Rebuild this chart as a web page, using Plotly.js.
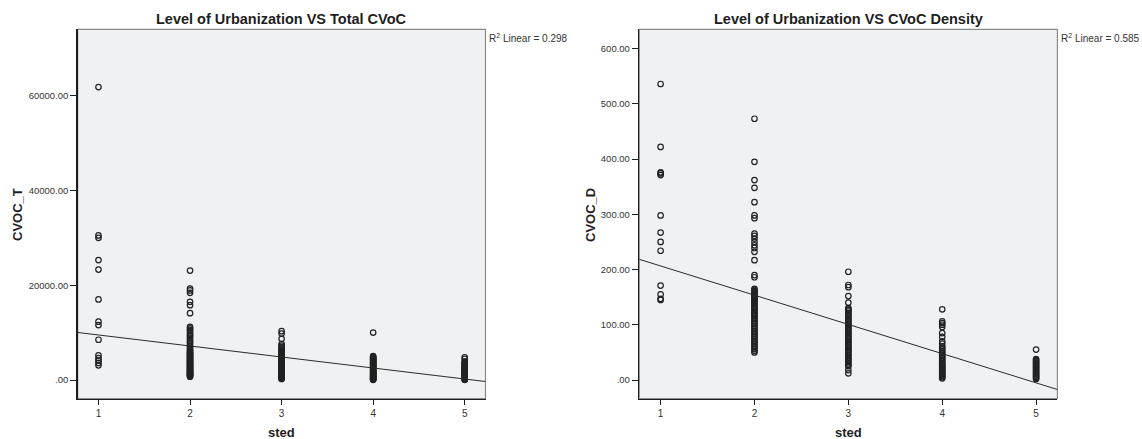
<!DOCTYPE html>
<html>
<head>
<meta charset="utf-8">
<script src="https://cdn.plot.ly/plotly-3.0.1.min.js"></script>
<style>html,body{margin:0;padding:0;background:#fff;}#chart{width:1142px;height:439px;}</style>
</head>
<body>
<div id="chart"></div>
<script>
// ---- data ----
const stedLevels = [1, 2, 3, 4, 5];
const xTickLabels = ['1', '2', '3', '4', '5'];

// Total CVoC by urbanization level (sted)
const cvocT_1 = [61800, 30500, 30000, 25300, 23300, 17000, 12300, 11600, 8500, 5200, 4600, 4100, 3600, 3100];
const cvocT_2 = [23100, 19300, 18900, 18400, 16500, 15800, 14100, 11200, 10900, 10600, 10300,
  9850, 9550, 9300, 8950, 8600, 8200, 7900, 7450, 7100, 6800, 6500, 6200, 5950, 5800, 5620, 5430, 5300,
  5120, 4950, 4780, 4640, 4480, 4300, 4170, 3990, 3820, 3660, 3480, 3350, 3190, 3040, 2880, 2760,
  2590, 2440, 2310, 2150, 1990, 1860, 1700, 1590, 1440, 1330, 1190, 1080, 960, 840, 700];
const cvocT_3 = [10300, 9800, 8700, 7600, 7250, 6950, 6700, 6420, 6230, 6010, 5850, 5690, 5520, 5380,
  5240, 5110, 4960, 4830, 4700, 4560, 4420, 4290, 4140, 4010, 3880, 3740, 3610, 3480, 3340, 3230,
  3090, 2960, 2820, 2690, 2560, 2420, 2290, 2160, 2010, 1890, 1760, 1620, 1490, 1360, 1240, 1110,
  990, 860, 730, 610, 470, 330, 220];
const cvocT_4 = [10000, 5050, 4880, 4720, 4560, 4410, 4260, 4090, 3950, 3790, 3640, 3500, 3360, 3220,
  3090, 2950, 2810, 2680, 2540, 2410, 2280, 2150, 2030, 1900, 1780, 1650, 1530, 1410, 1290, 1170,
  1060, 940, 830, 720, 610, 500, 400, 300, 200, 110, 30];
const cvocT_5 = [4800, 4480, 3950, 3720, 3510, 3300, 3110, 2920, 2750, 2590, 2430, 2280, 2140, 1990,
  1850, 1710, 1580, 1440, 1310, 1190, 1060, 940, 820, 710, 600, 500, 400, 300, 200, 120, 50];

// CVoC density by urbanization level (sted)
const cvocD_1 = [536, 422, 376, 374, 371, 298, 267, 250, 234, 171, 155, 147, 145];
const cvocD_2 = [473, 395, 362, 348, 322, 298, 293, 265, 261, 256, 250, 244, 239, 232, 217, 190, 186,
  165, 163, 161, 159, 157, 155, 153, 151, 149, 147, 145, 143, 141, 138, 135, 132, 130, 128, 125, 122,
  120, 118, 116, 113, 110, 107, 104, 101, 98, 95, 92, 89, 86, 83, 80, 77, 74, 71, 68, 65, 62, 59,
  56, 53, 50];
const cvocD_3 = [196, 172, 168, 152, 140, 130, 128, 126, 124, 121, 118, 116, 113, 110, 108, 105, 102,
  100, 97, 94, 92, 89, 86, 84, 81, 78, 76, 73, 70, 68, 65, 62, 60, 57, 54, 52, 49, 46, 44, 41, 38,
  36, 33, 30, 27, 25, 18, 12];
const cvocD_4 = [128, 106, 103, 100, 96, 85, 78, 70, 66, 61, 58, 55, 52, 49, 46, 44, 41, 39, 36, 34,
  31, 29, 27, 25, 23, 21, 19, 17, 15, 13, 11, 9, 7, 5, 3];
const cvocD_5 = [55, 38, 36, 34, 32, 30, 28, 26, 24, 22, 20, 18, 16, 14, 12, 10, 8, 6, 4, 2];

// linear fit lines (end points read at the plot edges)
const fitX = [0.773, 5.227];
const fitT = [10030, -320];
const fitD = [218.5, -17.2];

// y tick values / labels
const yTickT = [0, 20000, 40000, 60000];
const yTickTLabels = ['.00', '20000.00', '40000.00', '60000.00'];
const yTickD = [0, 100, 200, 300, 400, 500, 600];
const yTickDLabels = ['.00', '100.00', '200.00', '300.00', '400.00', '500.00', '600.00'];

const r2T = 'R<sup>2</sup> Linear = 0.298';
const r2D = 'R<sup>2</sup> Linear = 0.585';

// ---- build traces ----
const groupsT = [cvocT_1, cvocT_2, cvocT_3, cvocT_4, cvocT_5];
const groupsD = [cvocD_1, cvocD_2, cvocD_3, cvocD_4, cvocD_5];
function flatten(groups) {
  const xs = [], ys = [];
  groups.forEach((g, i) => g.forEach(v => { xs.push(stedLevels[i]); ys.push(v); }));
  return {xs, ys};
}
const T = flatten(groupsT), D = flatten(groupsD);
const markerStyle = {symbol: 'circle-open', size: 5.5, color: '#222', line: {width: 1.2, color: '#222'}};

const traces = [
  {type: 'scatter', mode: 'markers', x: T.xs, y: T.ys, marker: markerStyle, xaxis: 'x', yaxis: 'y', hoverinfo: 'x+y'},
  {type: 'scatter', mode: 'lines', x: fitX, y: fitT, line: {color: '#2a2a2a', width: 1}, xaxis: 'x', yaxis: 'y'},
  {type: 'scatter', mode: 'markers', x: D.xs, y: D.ys, marker: markerStyle, xaxis: 'x2', yaxis: 'y2', hoverinfo: 'x+y'},
  {type: 'scatter', mode: 'lines', x: fitX, y: fitD, line: {color: '#2a2a2a', width: 1}, xaxis: 'x2', yaxis: 'y2'}
];

const W = 1142, H = 439;
const FONT = 'Liberation Sans, Arial, sans-serif';
const yDom = [1 - 398.5 / H, 1 - 29.3 / H];
function xAx(dom, anchor) {
  return {domain: dom, anchor: anchor, range: [0.773, 5.227], tickvals: stedLevels, ticktext: xTickLabels,
    showgrid: false, zeroline: false, showline: true, linecolor: '#1e1e1e', linewidth: 1.5,
    ticks: 'outside', ticklen: 5, tickwidth: 1, tickcolor: '#1e1e1e',
    tickfont: {family: FONT, size: 10, color: '#333'}, fixedrange: true};
}
function yAx(vals, labels, range, anchor) {
  return {domain: yDom, anchor: anchor, range: range, tickvals: vals, ticktext: labels,
    showgrid: false, zeroline: false, showline: true, linecolor: '#1e1e1e', linewidth: 1.5,
    ticks: 'outside', ticklen: 6, tickwidth: 1, tickcolor: '#1e1e1e',
    tickfont: {family: FONT, size: 9.5, color: '#333'}, fixedrange: true};
}
const ann = (text, x, y, opts) => Object.assign({text: text, x: x / W, y: 1 - y / H, xref: 'paper', yref: 'paper',
  xanchor: 'center', yanchor: 'middle',
  showarrow: false, font: {family: FONT, size: 13, color: '#1e1e1e'}}, opts || {});

const layout = {
  width: W, height: H, margin: {l: 0, r: 0, t: 0, b: 0},
  paper_bgcolor: '#ffffff', plot_bgcolor: '#f0f1f3', showlegend: false,
  xaxis: xAx([77.7 / W, 485.5 / W], 'y'),
  yaxis: yAx(yTickT, yTickTLabels, [-3900, 74000], 'x'),
  xaxis2: xAx([639.3 / W, 1057.4 / W], 'y2'),
  yaxis2: yAx(yTickD, yTickDLabels, [-33.5, 635], 'x2'),
  shapes: [
    {type: 'rect', xref: 'x domain', yref: 'y domain', x0: 0, x1: 1, y0: 0, y1: 1, line: {color: '#8a8a8a', width: 1.2}, layer: 'below'},
    {type: 'rect', xref: 'x2 domain', yref: 'y2 domain', x0: 0, x1: 1, y0: 0, y1: 1, line: {color: '#8a8a8a', width: 1.2}, layer: 'below'}
  ],
  annotations: [
    ann('<b>Level of Urbanization VS Total CVoC</b>', 281.6, 18.5, {font: {family: FONT, size: 14.5, color: '#1e1e1e'}}),
    ann('<b>Level of Urbanization VS CVoC Density</b>', 848.3, 18.5, {font: {family: FONT, size: 14.5, color: '#1e1e1e'}}),
    ann('<b>CVOC_T</b>', 17, 215, {textangle: -90}),
    ann('<b>CVOC_D</b>', 590, 215, {textangle: -90}),
    ann('<b>sted</b>', 281.6, 432),
    ann('<b>sted</b>', 848.3, 432),
    ann(r2T, 487, 38, {xanchor: 'left', font: {family: FONT, size: 10, color: '#333'}}),
    ann(r2D, 1058.5, 38, {xanchor: 'left', font: {family: FONT, size: 10, color: '#333'}})
  ]
};

Plotly.newPlot('chart', traces, layout, {displayModeBar: false, staticPlot: true});
</script>
</body>
</html>
